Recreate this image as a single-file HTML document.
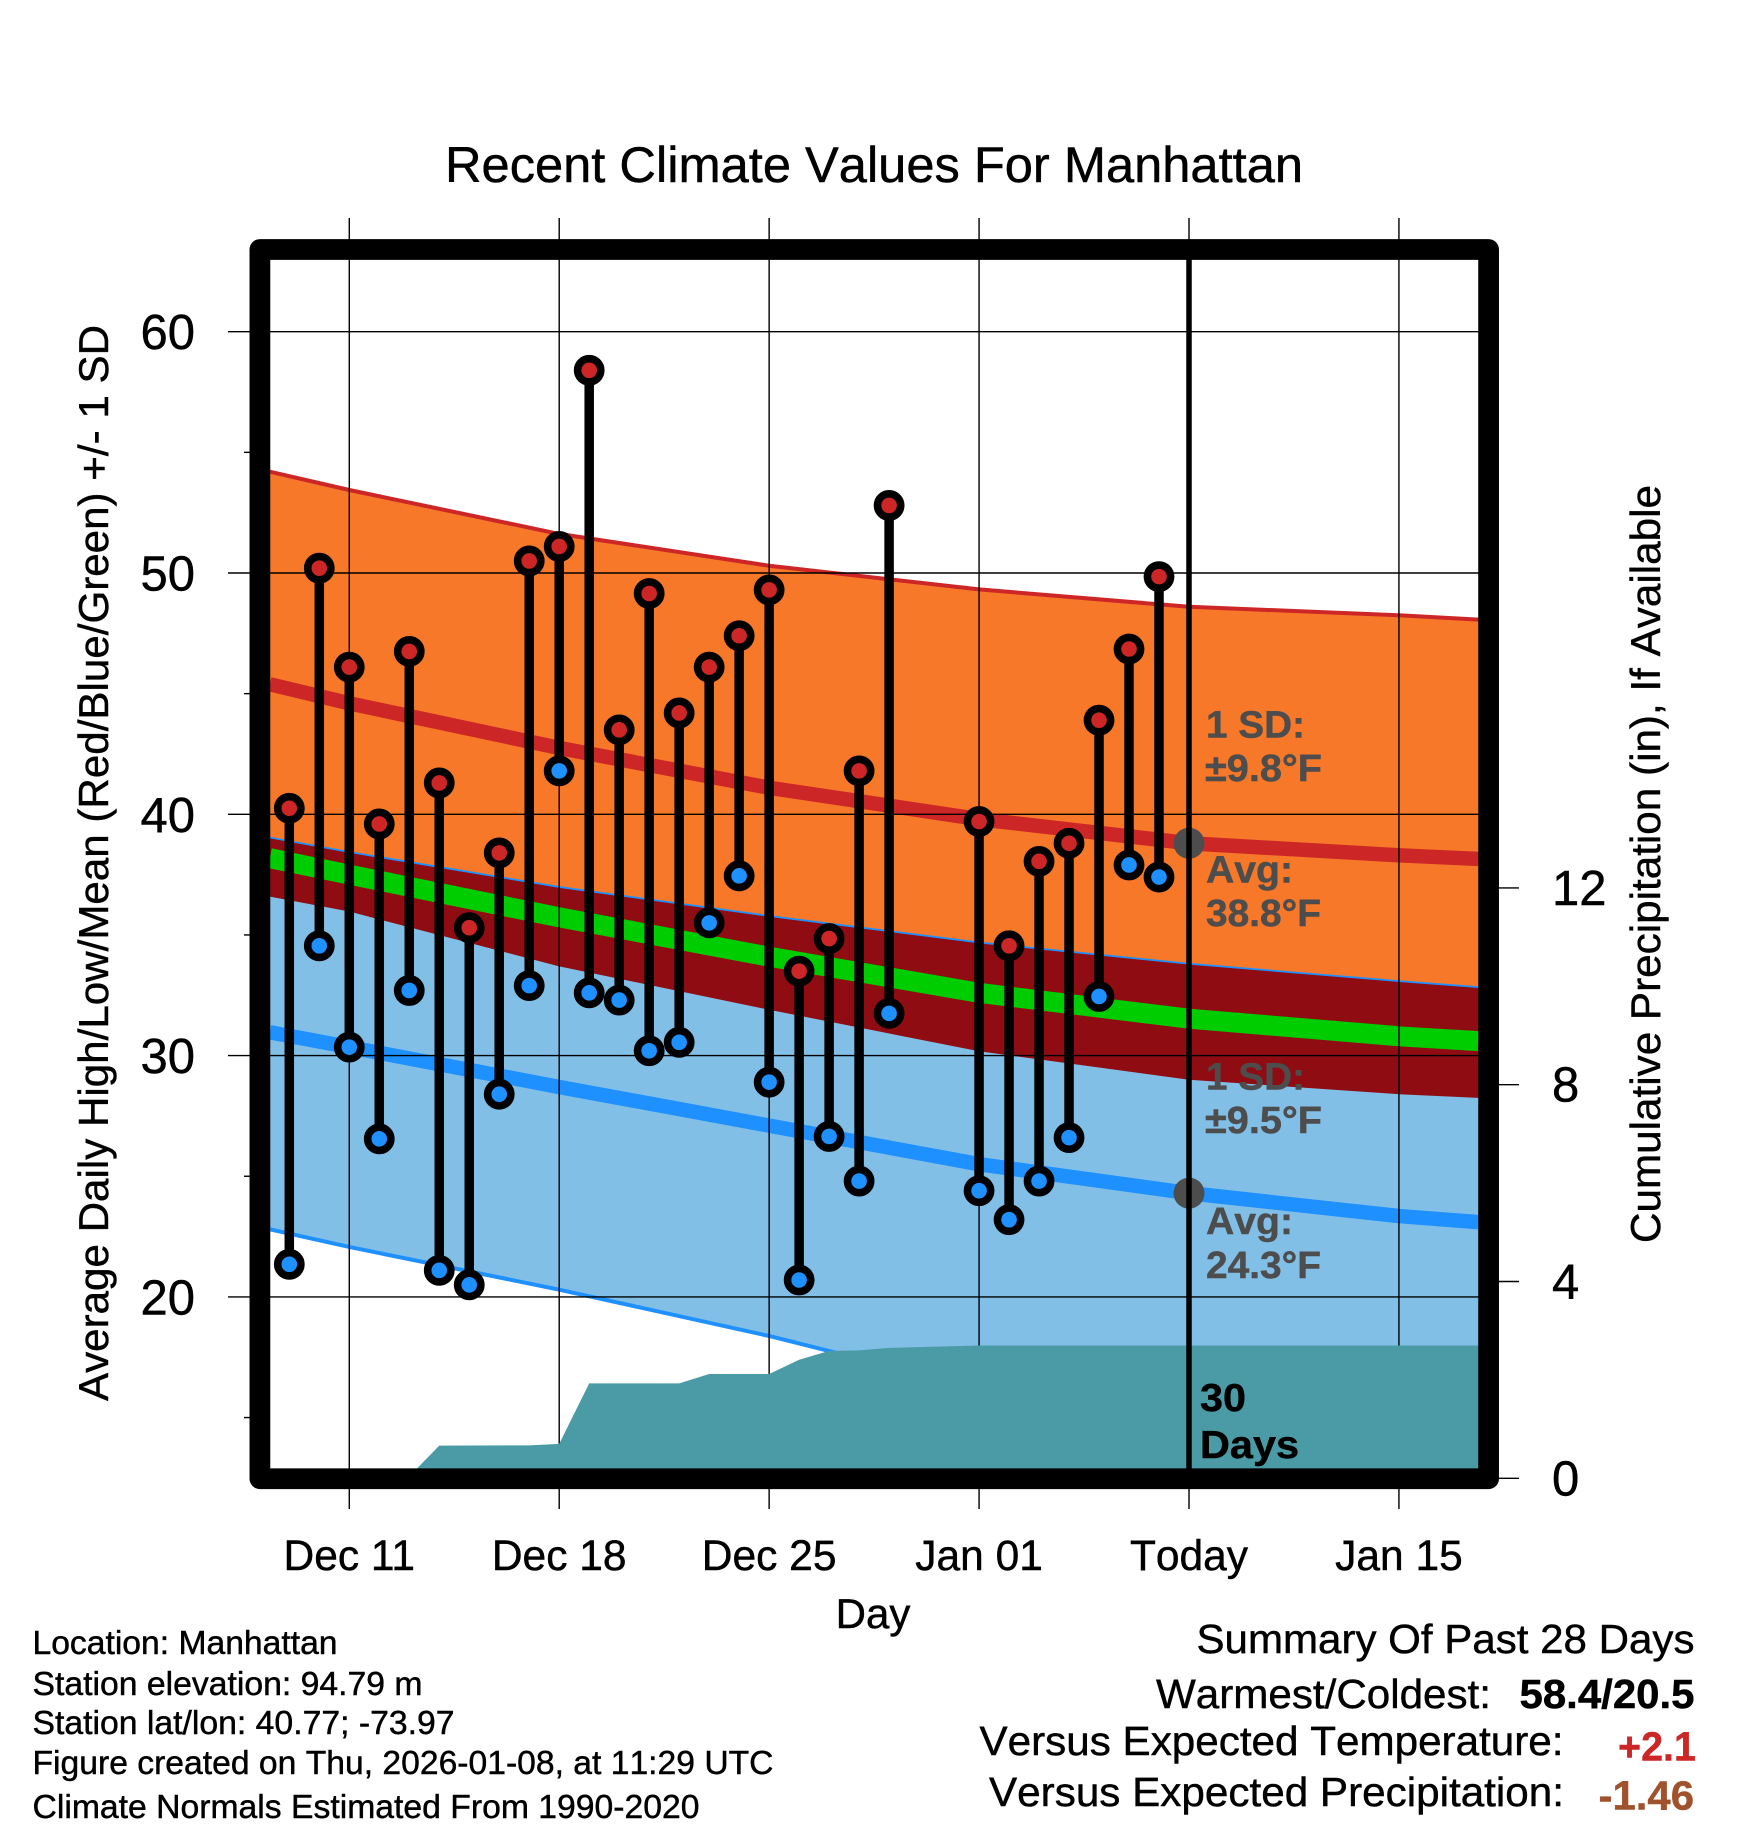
<!DOCTYPE html>
<html lang="en">
<head>
<meta charset="utf-8">
<title>Recent Climate Values For Manhattan</title>
<style>
html,body{margin:0;padding:0;background:#fff;}
svg{display:block;}
text{font-family:"Liberation Sans",Arial,Helvetica,sans-serif;fill:#000;stroke:#000;stroke-width:0.45px;font-kerning:none;}
</style>
</head>
<body>
<svg id="chart" xmlns="http://www.w3.org/2000/svg" width="1748" height="1828" viewBox="0 0 1748 1828">
  <rect x="0" y="0" width="1748" height="1828" fill="#ffffff"/>
  <g id="bands"></g>
  <g id="grid"></g>
  <g id="precip"></g>
  <g id="dots"></g>
  <g id="obs"></g>
  <line x1="1189" y1="255" x2="1189" y2="1475" stroke="#000" stroke-width="5.5"/>
  <rect x="259.9" y="249.5" width="1228.7" height="1229.2" fill="none" stroke="#000" stroke-width="20.75" stroke-linejoin="round"/>
  <g id="axes"></g>

  <text x="445" y="182" font-size="50" textLength="858" lengthAdjust="spacingAndGlyphs">Recent Climate Values For Manhattan</text>
  <text transform="translate(108,1401) rotate(-90)" font-size="42" textLength="1076" lengthAdjust="spacingAndGlyphs">Average Daily High/Low/Mean (Red/Blue/Green) +/- 1 SD</text>
  <text transform="translate(1660,1243) rotate(-90)" font-size="42" textLength="758" lengthAdjust="spacingAndGlyphs">Cumulative Precipitation (in), If Available</text>
  <text x="873" y="1628" font-size="42" text-anchor="middle">Day</text>

  <g font-weight="bold" font-size="38">
    <text x="1206" y="737.5" style="fill:#4d4d4d;stroke:#4d4d4d" textLength="99" lengthAdjust="spacingAndGlyphs">1 SD:</text>
    <text x="1205" y="781" style="fill:#4d4d4d;stroke:#4d4d4d" textLength="117" lengthAdjust="spacingAndGlyphs">±9.8°F</text>
    <text x="1206" y="882.5" style="fill:#4d4d4d;stroke:#4d4d4d" textLength="87" lengthAdjust="spacingAndGlyphs">Avg:</text>
    <text x="1206" y="926" style="fill:#4d4d4d;stroke:#4d4d4d" textLength="115" lengthAdjust="spacingAndGlyphs">38.8°F</text>
    <text x="1206" y="1089.5" style="fill:#4d4d4d;stroke:#4d4d4d" textLength="99" lengthAdjust="spacingAndGlyphs">1 SD:</text>
    <text x="1205" y="1133" style="fill:#4d4d4d;stroke:#4d4d4d" textLength="117" lengthAdjust="spacingAndGlyphs">±9.5°F</text>
    <text x="1206" y="1234" style="fill:#4d4d4d;stroke:#4d4d4d" textLength="87" lengthAdjust="spacingAndGlyphs">Avg:</text>
    <text x="1206" y="1278" style="fill:#4d4d4d;stroke:#4d4d4d" textLength="115" lengthAdjust="spacingAndGlyphs">24.3°F</text>
  </g>
  <text x="1200" y="1411" font-size="39" font-weight="bold" textLength="46" lengthAdjust="spacingAndGlyphs">30</text>
  <text x="1200" y="1458" font-size="39" font-weight="bold" textLength="99" lengthAdjust="spacingAndGlyphs">Days</text>

  <text x="32.5" y="1654" font-size="33" textLength="305" lengthAdjust="spacingAndGlyphs">Location: Manhattan</text>
  <text x="32.5" y="1695" font-size="33" textLength="390" lengthAdjust="spacingAndGlyphs">Station elevation: 94.79 m</text>
  <text x="32.5" y="1734" font-size="33" textLength="422" lengthAdjust="spacingAndGlyphs">Station lat/lon: 40.77; -73.97</text>
  <text x="32.5" y="1774" font-size="33" textLength="741" lengthAdjust="spacingAndGlyphs">Figure created on Thu, 2026-01-08, at 11:29 UTC</text>
  <text x="32.5" y="1818" font-size="33" textLength="667" lengthAdjust="spacingAndGlyphs">Climate Normals Estimated From 1990-2020</text>

  <text x="1196.5" y="1653" font-size="41" textLength="498" lengthAdjust="spacingAndGlyphs">Summary Of Past 28 Days</text>
  <text x="1156" y="1708" font-size="41" textLength="335" lengthAdjust="spacingAndGlyphs">Warmest/Coldest:</text>
  <text x="1519.5" y="1708" font-size="41" font-weight="bold" textLength="175" lengthAdjust="spacingAndGlyphs">58.4/20.5</text>
  <text x="979.5" y="1755" font-size="41" textLength="584" lengthAdjust="spacingAndGlyphs">Versus Expected Temperature:</text>
  <text x="1618" y="1760.5" font-size="41" font-weight="bold" style="fill:#cd2626;stroke:#cd2626" textLength="78" lengthAdjust="spacingAndGlyphs">+2.1</text>
  <text x="989" y="1806" font-size="41" textLength="575" lengthAdjust="spacingAndGlyphs">Versus Expected Precipitation:</text>
  <text x="1598.5" y="1809.5" font-size="41" font-weight="bold" style="fill:#a0522d;stroke:#a0522d" textLength="95.5" lengthAdjust="spacingAndGlyphs">-1.46</text>
</svg>
<script>
// Day offsets are relative to "Today" (Jan 08).
const obsDates = ["Dec 09","Dec 10","Dec 11","Dec 12","Dec 13","Dec 14","Dec 15","Dec 16","Dec 17","Dec 18","Dec 19","Dec 20","Dec 21","Dec 22","Dec 23","Dec 24","Dec 25","Dec 26","Dec 27","Dec 28","Dec 29","Jan 01","Jan 02","Jan 03","Jan 04","Jan 05","Jan 06","Jan 07"];
const obsDays = [-30,-29,-28,-27,-26,-25,-24,-23,-22,-21,-20,-19,-18,-17,-16,-15,-14,-13,-12,-11,-10,-7,-6,-5,-4,-3,-2,-1];
const obsHigh = [40.25,50.2,46.1,39.6,46.75,41.3,35.3,38.4,50.5,51.1,58.4,43.5,49.15,44.2,46.1,47.4,49.3,33.5,34.85,41.8,52.8,39.7,34.55,38.05,38.8,43.9,46.85,49.85];
const obsLow = [21.35,34.55,30.35,26.55,32.7,21.1,20.5,28.4,32.9,41.8,32.6,32.3,30.2,30.55,35.5,37.45,28.9,20.7,26.65,24.8,31.75,24.4,23.2,24.8,26.6,32.45,37.9,37.4];

const normDays = [-30.65,-28,-21,-14,-7,0,7,9.65];
const highPlusSd = [54.2,53.44,51.62,50.3,49.32,48.6,48.25,48.07];
const highMean = [45.39,44.6,42.75,41.1,39.8,38.8,38.3,38.15];
const highMinusSd = [36.59,35.97,33.7,31.9,30.18,29.0,28.4,28.25];
const overallMean = [38.18,37.5,35.73,34.1,32.6,31.53,30.8,30.6];
const lowPlusSd = [39.0,38.4,36.95,35.75,34.65,33.77,33.05,32.8];
const lowMean = [30.97,30.35,28.7,27.1,25.5,24.3,23.35,23.1];
const lowMinusSd = [22.8,22.07,20.3,18.38,16.2,14.8,13.8,13.6];

const precipDays = [-31,-26,-25,-22,-21,-20,-17,-16,-14,-13,-12,-11,-10,-7,0,10];
const precipValues = [0,0.04,0.665,0.67,0.70,1.93,1.93,2.12,2.12,2.41,2.59,2.60,2.65,2.70,2.70,2.70];

const xTickDays = [-28,-21,-14,-7,0,7];
const xTickLabels = ["Dec 11","Dec 18","Dec 25","Jan 01","Today","Jan 15"];
const yMajorTicks = [60,50,40,30,20];
const yMinorTicks = [55,45,35,25,15];
const precipTicks = [0,4,8,12];
const todayMarkers = [38.8,24.3];

const NS = "http://www.w3.org/2000/svg";
function xDay(d){ return 1189 + d * 29.99; }
function yTemp(t){ return 331.7 + (60 - t) * 24.13; }
function yPrecip(p){ return 1478.3 - p * 49.2; }
function mk(parent, tag, attrs, txt){
  const el = document.createElementNS(NS, tag);
  for (const k in attrs) el.setAttribute(k, attrs[k]);
  if (txt !== undefined) el.textContent = txt;
  parent.appendChild(el);
  return el;
}
function linePts(days, vals, yf){
  return days.map((d,i) => xDay(d).toFixed(2) + "," + yf(vals[i]).toFixed(2));
}
function bandPts(days, top, bot){
  return linePts(days, top, yTemp).concat(linePts(days, bot, yTemp).reverse()).join(" ");
}

const bands = document.getElementById("bands");
const grid = document.getElementById("grid");
const precip = document.getElementById("precip");
const dots = document.getElementById("dots");
const obs = document.getElementById("obs");
const axes = document.getElementById("axes");

let el;
el = mk(bands, "polygon", {points: bandPts(normDays, highPlusSd, highMinusSd), fill: "#f67828"});


el = mk(bands, "polygon", {points: bandPts(normDays, lowPlusSd, lowMinusSd), fill: "#82bfe6"});


el = mk(bands, "polyline", {points: linePts(normDays, highPlusSd, yTemp).join(" "), fill: "none", stroke: "#cd2626", "stroke-width": 4});


el = mk(bands, "polyline", {points: linePts(normDays, lowMinusSd, yTemp).join(" "), fill: "none", stroke: "#1e90ff", "stroke-width": 4});


el = mk(bands, "polyline", {points: linePts(normDays, lowPlusSd, yTemp).join(" "), fill: "none", stroke: "#1e90ff", "stroke-width": 3.5});


el = mk(bands, "polygon", {points: bandPts(normDays, lowPlusSd, highMinusSd), fill: "#8f0c12"});


el = mk(bands, "polyline", {points: linePts(normDays, highMean, yTemp).join(" "), fill: "none", stroke: "#cd2626", "stroke-width": 14.5});


el = mk(bands, "polyline", {points: linePts(normDays, lowMean, yTemp).join(" "), fill: "none", stroke: "#1e90ff", "stroke-width": 14.5});


el = mk(bands, "polyline", {points: linePts(normDays, overallMean, yTemp).join(" "), fill: "none", stroke: "#00cd00", "stroke-width": 20});



xTickDays.forEach(function(d, i){
  const x = xDay(d);
  const g = mk(grid, "line", {x1: x, y1: 218, x2: x, y2: 1509, stroke: "#000", "stroke-width": 1.4});
  
  
  const t = mk(axes, "text", {x: x, y: 1570, "font-size": 42.5, "text-anchor": "middle"}, xTickLabels[i]);
  if (xTickLabels[i] !== "Today") t.style.fontKerning = "normal";
  
  
});
yMajorTicks.forEach(function(v){
  const y = yTemp(v);
  const g = mk(grid, "line", {x1: 228, y1: y, x2: 1480, y2: y, stroke: "#000", "stroke-width": 1.4});
  
  
  const t = mk(axes, "text", {x: 195, y: y + 17.5, "font-size": 49, "text-anchor": "end"}, String(v));
  
  
});
yMinorTicks.forEach(function(v){
  const y = yTemp(v);
  const g = mk(grid, "line", {x1: 244, y1: y, x2: 252, y2: y, stroke: "#000", "stroke-width": 1.4});
  
  
});
precipTicks.forEach(function(v){
  const y = yPrecip(v);
  const g = mk(axes, "line", {x1: 1496, y1: y, x2: 1519, y2: y, stroke: "#000", "stroke-width": 1.4});
  
  
  const t = mk(axes, "text", {x: 1552, y: y + 17, "font-size": 49}, String(v));
  
  
});

const precipLine = linePts(precipDays, precipValues, yPrecip);
const precipPts = precipLine.concat([xDay(precipDays[precipDays.length-1]).toFixed(2) + "," + yPrecip(0), xDay(precipDays[0]).toFixed(2) + "," + yPrecip(0)]).join(" ");
el = mk(precip, "polygon", {points: precipPts, fill: "#4a9ba6"});



todayMarkers.forEach(function(v){
  const c = mk(dots, "circle", {cx: 1189, cy: yTemp(v), r: 15.5, fill: "#4d4d4d"});
  
  
});

obsDays.forEach(function(d, i){
  const x = xDay(d);
  const stem = mk(obs, "line", {x1: x, y1: yTemp(obsHigh[i]), x2: x, y2: yTemp(obsLow[i]), stroke: "#000", "stroke-width": 9.5});
  
  
  const hi = mk(obs, "circle", {cx: x, cy: yTemp(obsHigh[i]), r: 11.6, fill: "#cd2626", stroke: "#000", "stroke-width": 7.6});
  
  
  const lo = mk(obs, "circle", {cx: x, cy: yTemp(obsLow[i]), r: 11.6, fill: "#1e90ff", stroke: "#000", "stroke-width": 7.6});
  
  
});
</script>
</body>
</html>
